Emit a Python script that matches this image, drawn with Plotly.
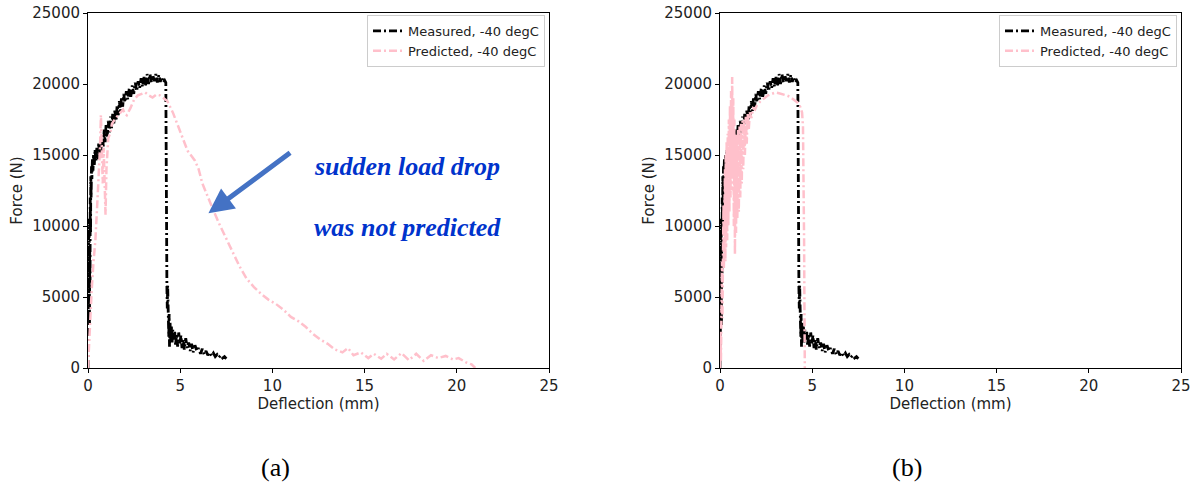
import plotly.graph_objects as go

# ---------------- data ----------------
meas_x = [0.00,0.02,0.03,0.05,0.06,0.08,0.09,0.11,0.12,0.14,0.15,0.17,0.19,0.21,0.24,0.27,0.30,0.34,0.38,0.43,
          0.48,0.53,0.58,0.63,0.68,0.73,0.78,0.83,0.88,0.93,0.98,1.04,1.10,1.16,1.22,1.28,1.34,1.40,1.46,1.52,
          1.58,1.64,1.70,1.76,1.82,1.88,1.94,2.00,2.08,2.16,2.24,2.32,2.40,2.48,2.56,2.64,2.72,2.80,2.88,2.96,
          3.04,3.12,3.20,3.28,3.36,3.44,3.52,3.60,3.68,3.76,3.84,3.92,4.00,4.08,4.16,4.22,4.28,4.30,4.32,4.34,
          4.36,4.38,4.40,4.42,4.45,4.48,4.52,4.56,4.60,4.65,4.70,4.75,4.80,4.86,4.92,4.98,5.04,5.10,5.16,5.22,
          5.30,5.38,5.46,5.54,5.62,5.70,5.80,5.90,6.00,6.10,6.20,6.30,6.40,6.50,6.60,6.70,6.80,6.90,7.00,7.10,
          7.20,7.30,7.40,7.50]
meas_y = [0,2500,9000,4000,10500,3000,8500,6000,12000,9500,13500,12000,14200,13300,14700,13900,15000,14200,15400,14600,
          15500,14700,15800,15000,16100,15200,16400,15600,16800,15900,17100,16300,17400,16600,17700,16900,17900,17200,18200,17400,
          18500,17800,18800,18100,19100,18400,19300,18700,19500,18900,19700,19100,19900,19300,20100,19500,20200,19700,20400,19800,
          20500,19900,20700,20000,20700,20100,20600,20200,20700,20100,20650,20150,20500,20100,20250,20100,5600,4200,5800,3000,
          4600,2200,3800,1500,3200,2000,3000,1800,2700,2000,2600,1600,2400,1500,2500,1700,2300,1400,2000,1300,
          2100,1400,1800,1200,1700,1100,1600,1200,1400,1000,1350,950,1200,900,1100,850,1050,800,950,750,
          900,700,800,650]

pred_a_x = [0,0.05,0.1,0.2,0.3,0.4,0.5,0.55,0.6,0.65,0.7,0.75,0.8,0.85,0.9,0.95,1.0,1.05,1.1,1.2,
            1.3,1.5,1.7,1.9,2.0,2.1,2.3,2.5,2.7,2.9,3.1,3.3,3.5,3.7,3.9,4.1,4.3,4.6,5.0,5.4,
            5.8,6.0,6.2,6.5,6.8,7.1,7.4,7.8,8.2,8.6,9.0,9.4,9.8,10.2,10.6,11.0,11.4,11.8,12.2,12.6,
            13.0,13.4,13.8,14.1,14.4,14.8,15.2,15.5,15.9,16.2,16.6,17.0,17.4,17.8,18.2,18.6,19.0,19.4,19.8,20.1,
            20.5,20.8,21.0]
pred_a_y = [0,1500,3500,5500,7500,9000,11500,12800,14000,15500,17800,16000,13000,15500,12000,10800,14000,15800,16200,16500,
            17200,17600,17900,18200,17900,17800,18300,18900,19200,19300,19400,19200,19050,19250,19200,19000,18800,18000,16700,15300,
            14600,14000,13000,12000,11100,10200,9400,8300,7200,6300,5700,5200,4800,4500,4100,3600,3300,2900,2400,2000,
            1700,1300,1100,1400,900,1100,700,1000,650,1000,600,1050,550,1000,500,900,700,850,600,700,
            400,250,0]

pred_b_x = [0,0.03,0.05,0.07,0.09,0.11,0.13,0.15,0.17,0.19,0.21,0.23,0.25,0.27,0.29,0.31,0.33,0.36,0.39,0.42,
            0.45,0.48,0.51,0.54,0.57,0.60,0.63,0.66,0.69,0.72,0.75,0.78,0.81,0.84,0.87,0.90,0.94,0.98,1.02,1.06,
            1.10,1.14,1.18,1.22,1.26,1.30,1.35,1.40,1.45,1.50,1.56,1.62,1.70,1.80,1.90,2.0,2.2,2.4,2.6,2.8,
            3.0,3.2,3.4,3.6,3.8,4.0,4.2,4.35,4.45,4.5,4.53,4.56,4.58,4.6]
pred_b_y = [0,2500,500,5000,1500,7500,3500,9500,6000,11500,7000,13000,8000,14000,7500,15000,8500,16000,9000,16500,
            10000,17500,11000,18500,12000,19500,12500,20500,13500,19000,10000,17500,8000,16000,9500,16500,10500,16800,11000,17000,
            12000,17200,13000,17400,14000,17500,15000,17700,15800,17900,16800,18000,17600,18300,18200,18500,18800,19000,19200,19300,
            19400,19350,19300,19200,19100,18900,18700,18400,18000,17000,14000,9000,4000,0]

series_names = ["Measured, -40 degC", "Predicted, -40 degC"]
x_ticks = [0, 5, 10, 15, 20, 25]
y_ticks = [0, 5000, 10000, 15000, 20000, 25000]

# ---------------- figure ----------------
W, H = 1195, 489
DASH = "8px,3px,2px,3px"
fig = go.Figure()

fig.add_trace(go.Scatter(x=meas_x, y=meas_y, mode="lines", name=series_names[0],
                         line=dict(color="black", width=2.8, dash=DASH), legend="legend",
                         xaxis="x", yaxis="y"))
fig.add_trace(go.Scatter(x=pred_a_x, y=pred_a_y, mode="lines", name=series_names[1],
                         line=dict(color="pink", width=2.5, dash=DASH), legend="legend",
                         xaxis="x", yaxis="y"))
fig.add_trace(go.Scatter(x=meas_x, y=meas_y, mode="lines", name=series_names[0],
                         line=dict(color="black", width=2.8, dash=DASH), legend="legend2",
                         xaxis="x2", yaxis="y2"))
fig.add_trace(go.Scatter(x=pred_b_x, y=pred_b_y, mode="lines", name=series_names[1],
                         line=dict(color="pink", width=2.5, dash=DASH), legend="legend2",
                         xaxis="x2", yaxis="y2"))

tickfont = dict(family="DejaVu Sans", size=15, color="#222")
titlefont = dict(family="DejaVu Sans", size=15, color="#222")

def xax(domain, anchor):
    return dict(domain=domain, anchor=anchor, range=[0, 25], tickvals=x_ticks,
                ticktext=[str(v) for v in x_ticks], automargin=False,
                showline=True, mirror=True, linecolor="black", linewidth=1,
                ticks="outside", ticklen=4, tickcolor="black", showgrid=False, zeroline=False,
                tickfont=tickfont, title=dict(text="Deflection (mm)", font=titlefont, standoff=2))

def yax(domain, anchor):
    return dict(domain=domain, anchor=anchor, range=[0, 25000], tickvals=y_ticks,
                ticktext=[str(v) for v in y_ticks], automargin=False,
                showline=True, mirror=True, linecolor="black", linewidth=1,
                ticks="outside", ticklen=4, tickcolor="black", showgrid=False, zeroline=False,
                tickfont=tickfont, title=dict(text="Force (N)", font=titlefont, standoff=6))

ydom = [1 - 368 / H, 1 - 13 / H]
legfont = dict(family="DejaVu Sans", size=13, color="#222")

fig.update_layout(
    width=W, height=H, margin=dict(l=0, r=0, t=0, b=0, autoexpand=False),
    paper_bgcolor="white", plot_bgcolor="white",
    xaxis=xax([88 / W, 549 / W], "y"),
    yaxis=yax(ydom, "x"),
    xaxis2=xax([720 / W, 1181 / W], "y2"),
    yaxis2=yax(ydom, "x2"),
    legend=dict(x=545 / W, y=1 - 15 / H, xanchor="right", yanchor="top", font=legfont,
                bgcolor="rgba(255,255,255,0.8)", bordercolor="#cccccc", borderwidth=1,
                tracegroupgap=0, itemwidth=30),
    legend2=dict(x=1177 / W, y=1 - 15 / H, xanchor="right", yanchor="top", font=legfont,
                 bgcolor="rgba(255,255,255,0.8)", bordercolor="#cccccc", borderwidth=1,
                 tracegroupgap=0, itemwidth=30),
    showlegend=True,
)

ann_font = dict(family="Liberation Serif", size=26, color="#0033cc", weight="bold", style="italic")
fig.add_annotation(x=17.3, y=14225, xref="x", yref="y", text="sudden load drop",
                   showarrow=False, font=ann_font)
fig.add_annotation(x=17.35, y=9860, xref="x", yref="y", text="was not predicted",
                   showarrow=False, font=ann_font)
fig.add_annotation(x=6.53, y=10890, xref="x", yref="y", ax=11.04, ay=15230, axref="x", ayref="y",
                   text="", showarrow=True, arrowhead=2, arrowsize=1, arrowwidth=5, arrowcolor="#4472c4")

cap_font = dict(family="Liberation Serif", size=26, color="black")
fig.add_annotation(x=275 / W, y=1 - 467 / H, xref="paper", yref="paper", text="(a)",
                   xanchor="center", yanchor="middle", showarrow=False, font=cap_font)
fig.add_annotation(x=907 / W, y=1 - 467 / H, xref="paper", yref="paper", text="(b)",
                   xanchor="center", yanchor="middle", showarrow=False, font=cap_font)

fig.write_html("out.html")
